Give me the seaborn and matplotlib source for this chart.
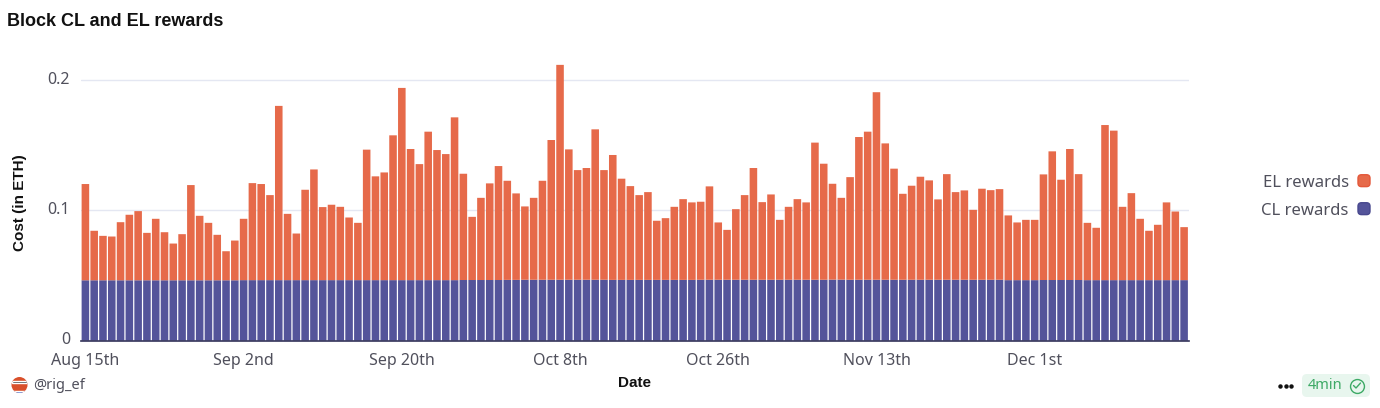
"""
plot.py

Block CL and EL rewards: daily stacked bars, CL at the bottom and EL on top.
"""

import matplotlib.pyplot as plt
import pandas as pd
import seaborn as sns
from matplotlib.lines import Line2D
from matplotlib.patches import Circle, FancyBboxPatch, Patch, Rectangle
from matplotlib.legend_handler import HandlerPatch
from matplotlib.transforms import ScaledTranslation

# ── Data ───────────────────────────────────────────────────────────────────────
total_rewards = [
    0.1203, 0.0844, 0.0805, 0.0800, 0.0910, 0.0967, 0.0995, 0.0828, 0.0936,
    0.0833, 0.0746, 0.0818, 0.1195, 0.0959, 0.0905, 0.0813, 0.0687, 0.0769,
    0.0936, 0.1210, 0.1203, 0.1118, 0.1803, 0.0974, 0.0823, 0.1159, 0.1315,
    0.1026, 0.1044, 0.1028, 0.0946, 0.0905, 0.1467, 0.1262, 0.1292, 0.1577,
    0.1941, 0.1472, 0.1356, 0.1605, 0.1464, 0.1433, 0.1715, 0.1282, 0.0951,
    0.1097, 0.1208, 0.1341, 0.1228, 0.1131, 0.1031, 0.1097, 0.1228, 0.1541,
    0.2118, 0.1469, 0.1310, 0.1326, 0.1623, 0.1310, 0.1426, 0.1244, 0.1187,
    0.1118, 0.1141, 0.0921, 0.0941, 0.1028, 0.1087, 0.1062, 0.1067, 0.1185,
    0.0908, 0.0851, 0.1010, 0.1118, 0.1326, 0.1064, 0.1123, 0.0928, 0.1028,
    0.1087, 0.1062, 0.1521, 0.1359, 0.1205, 0.1097, 0.1256, 0.1564, 0.1605,
    0.1908, 0.1515, 0.1321, 0.1128, 0.1190, 0.1259, 0.1231, 0.1085, 0.1279,
    0.1141, 0.1154, 0.1005, 0.1167, 0.1156, 0.1164, 0.0962, 0.0908, 0.0928,
    0.0928, 0.1277, 0.1454, 0.1236, 0.1472, 0.1279, 0.0905, 0.0867, 0.1656,
    0.1613, 0.1028, 0.1133, 0.0936, 0.0844, 0.0890, 0.1062, 0.0992, 0.0872,
]
cl_rewards = [
    0.0464, 0.0464, 0.0464, 0.0464, 0.0464, 0.0464, 0.0464, 0.0464, 0.0464,
    0.0464, 0.0464, 0.0464, 0.0464, 0.0464, 0.0464, 0.0464, 0.0464, 0.0464,
    0.0465, 0.0465, 0.0465, 0.0465, 0.0465, 0.0465, 0.0465, 0.0465, 0.0465,
    0.0465, 0.0465, 0.0465, 0.0465, 0.0465, 0.0465, 0.0465, 0.0465, 0.0465,
    0.0465, 0.0465, 0.0465, 0.0465, 0.0465, 0.0465, 0.0465, 0.0466, 0.0466,
    0.0466, 0.0466, 0.0466, 0.0467, 0.0467, 0.0468, 0.0468, 0.0468, 0.0468,
    0.0468, 0.0468, 0.0468, 0.0468, 0.0468, 0.0468, 0.0467, 0.0467, 0.0467,
    0.0467, 0.0467, 0.0467, 0.0467, 0.0467, 0.0467, 0.0467, 0.0468, 0.0468,
    0.0468, 0.0468, 0.0468, 0.0468, 0.0468, 0.0468, 0.0468, 0.0468, 0.0468,
    0.0468, 0.0468, 0.0468, 0.0468, 0.0469, 0.0469, 0.0468, 0.0468, 0.0468,
    0.0468, 0.0468, 0.0468, 0.0468, 0.0468, 0.0468, 0.0468, 0.0468, 0.0468,
    0.0468, 0.0468, 0.0468, 0.0468, 0.0468, 0.0468, 0.0465, 0.0465, 0.0465,
    0.0465, 0.0466, 0.0466, 0.0466, 0.0466, 0.0466, 0.0465, 0.0465, 0.0465,
    0.0465, 0.0465, 0.0465, 0.0465, 0.0465, 0.0465, 0.0465, 0.0465, 0.0465,
]
tick_positions = [0, 18, 36, 54, 72, 90, 108]
tick_labels = ["Aug 15th", "Sep 2nd", "Sep 20th", "Oct 8th", "Oct 26th", "Nov 13th", "Dec 1st"]
y_ticks = [0, 0.1, 0.2]
y_tick_labels = ["0", "0.1", "0.2"]

# ── Style ──────────────────────────────────────────────────────────────────────
sns.set_theme(style="white")
plt.rcParams["font.family"] = ["Noto Sans", "DejaVu Sans"]

EL_COLOR = "#E66A4A"
EL_EDGE = "#E4583A"
CL_COLOR = "#54549A"
CL_EDGE = "#48488E"
TEXT = "#50505C"
BOLD_FONT = "Liberation Sans"  # Noto Sans has no bold face here


def rounded_handle(legend, orig_handle, xdescent, ydescent, width, height, fontsize):
    return FancyBboxPatch(
        (-xdescent + 1.5, -ydescent + 1.5),
        width - 3,
        height - 3,
        boxstyle="round,pad=1.5,rounding_size=2.5",
    )


df = pd.DataFrame(
    {
        "date": pd.date_range("2023-08-15", periods=len(total_rewards)).strftime("%b %d"),
        "total": total_rewards,
        "cl": cl_rewards,
    }
)
df["el"] = df["total"] - df["cl"]

fig = plt.figure(figsize=(13.8, 4.08), dpi=100)
ax = fig.add_axes([81 / 1380, 1 - 340.7 / 408, 1107.5 / 1380, 280 / 408])

sns.barplot(data=df, x="date", y="cl", color=CL_COLOR, saturation=1, width=0.86,
            linewidth=0, ax=ax, zorder=3)
sns.barplot(data=df, x="date", y="el", color=EL_COLOR, saturation=1, width=0.86,
            linewidth=0, bottom=df["cl"].values, ax=ax, zorder=3)
# no pixel snapping, otherwise the gaps between bars come out uneven
for bar in ax.patches:
    bar.set_snap(False)

ax.set_xlim(-0.5, len(total_rewards) - 0.5)
ax.set_ylim(0, 0.215)
ax.set_xticks(tick_positions, tick_labels)
ax.set_yticks(y_ticks, y_tick_labels)
ax.tick_params(axis="both", length=0, labelsize=11.5, labelcolor=TEXT)
ax.tick_params(axis="x", pad=9)
ax.tick_params(axis="y", pad=8)
for label in ax.get_yticklabels():
    label.set_transform(label.get_transform() + ScaledTranslation(0, 2.5 / 100, fig.dpi_scale_trans))

ax.grid(axis="y", color="#E4E7F2", linewidth=1)
ax.set_axisbelow(True)
sns.despine(ax=ax, left=True)
ax.spines["bottom"].set_color("#34345A")
ax.spines["bottom"].set_linewidth(1.2)
ax.spines["bottom"].set_zorder(5)

ax.set_xlabel("Date", fontsize=11, fontweight="bold", family=BOLD_FONT, color="#111111")
ax.xaxis.set_label_coords(0.5, -0.125)
ax.set_ylabel("Cost (in ETH)", fontsize=11, fontweight="bold", family=BOLD_FONT, color="#111111")
ax.yaxis.set_label_coords(-0.0485, 0.492)

fig.text(7 / 1380, 1 - 22 / 408, "Block CL and EL rewards", fontsize=13,
         fontweight="bold", family=BOLD_FONT, color="#111111", va="center", ha="left")

ax.legend(
    handles=[
        Patch(facecolor=EL_COLOR, edgecolor=EL_EDGE, label="EL rewards"),
        Patch(facecolor=CL_COLOR, edgecolor=CL_EDGE, label="CL rewards"),
    ],
    handler_map={Patch: HandlerPatch(patch_func=rounded_handle)},
    markerfirst=False,
    frameon=False,
    fontsize=12,
    labelcolor=TEXT,
    handlelength=0.72,
    handleheight=0.72,
    handletextpad=0.55,
    labelspacing=0.72,
    borderpad=0,
    borderaxespad=0,
    loc="center right",
    bbox_to_anchor=(1370 / 1380, 1 - 196.5 / 408),
    bbox_transform=fig.transFigure,
)

# ── Footer, drawn in pixel coordinates ─────────────────────────────────────────
overlay = fig.add_axes([0, 0, 1, 1], zorder=10)
overlay.set_xlim(0, 1380)
overlay.set_ylim(408, 0)
overlay.axis("off")

avatar = Circle((19.5, 385), 8, facecolor="#D9502B", edgecolor="none")
overlay.add_patch(avatar)
overlay.add_patch(Rectangle((12, 381), 15, 1.6, facecolor="#222222", clip_path=avatar))
overlay.add_patch(Rectangle((12, 390.5), 15, 2.5, facecolor="#3F6FD0", clip_path=avatar))
overlay.text(33, 385.5, "@rig_ef", fontsize=10.5, color=TEXT, va="center", ha="left")

overlay.plot([1280, 1285.5, 1291], [385.5, 385.5, 385.5], linestyle="none",
             marker="o", markersize=2.2, color="#111111")
overlay.add_patch(
    FancyBboxPatch((1302, 374), 68, 23, boxstyle="round,pad=0,rounding_size=5",
                   facecolor="#E8F6EE", edgecolor="none")
)
overlay.text(1307.5, 385.5, "4min", fontsize=10.5, color="#3EAA66", va="center", ha="left")
overlay.add_line(Line2D([1357], [385.5], linestyle="none", marker="o", markersize=10,
                        markerfacecolor="none", markeredgecolor="#3EAA66", markeredgewidth=1))
overlay.plot([1353.5, 1356, 1360.5], [385.5, 388, 383], color="#3EAA66", linewidth=1)

plt.savefig("out.png", dpi=100)
plt.close()
